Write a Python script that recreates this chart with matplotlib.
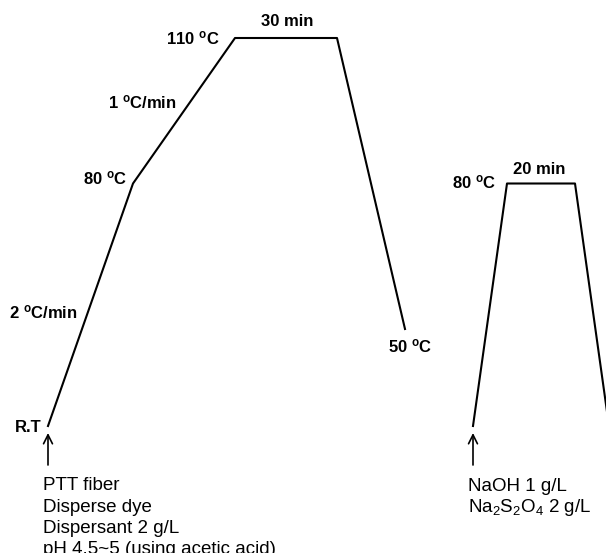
import matplotlib
matplotlib.use("Agg")
import matplotlib.pyplot as plt
import matplotlib.transforms as mtransforms

plt.rcParams["font.family"] = ["Liberation Sans", "DejaVu Sans"]
plt.rcParams["mathtext.fontset"] = "custom"
plt.rcParams["mathtext.rm"] = "Liberation Sans"
plt.rcParams["mathtext.it"] = "Liberation Sans:italic"
plt.rcParams["mathtext.bf"] = "Liberation Sans:bold"

# dyeing profile (time in min, temperature in deg C)
dye_time = [0, 25, 55, 85, 105]
dye_temp = [30, 80, 110, 110, 50]

# reduction clearing profile
rc_time = [125, 135, 155, 165]
rc_temp = [30, 80, 80, 30]

dye_recipe = ["PTT fiber", "Disperse dye", "Dispersant 2 g/L",
              "pH 4.5~5 (using acetic acid)"]
rc_recipe = ["NaOH 1 g/L", r"Na$_2$S$_2$O$_4$ 2 g/L"]

DEG = r"$^{\mathbf{o}}$"

# drawing scale of the schematic
PX_MIN = 3.4     # px per minute
PX_DEG = 4.85    # px per degree
X0, Y0 = 48, 426  # pixel position of (t=0, 30 C)
W, H = 606, 553

fig = plt.figure(figsize=(W / 100, H / 100), dpi=100, facecolor="white")
ax = fig.add_axes([0, 0, 1, 1])
ax.set_axis_off()
ax.set_xlim(-X0 / PX_MIN, (W - X0) / PX_MIN)
ax.set_ylim(30 - (H - Y0) / PX_DEG, 30 + Y0 / PX_DEG)

ax.plot(dye_time, dye_temp, "-", color="black", lw=1.5)
ax.plot(rc_time, rc_temp, "-", color="black", lw=1.5)


def label(txt, x, y, dx, dy, ha="right", bold=True, size=12):
    ax.annotate(txt, xy=(x, y), xytext=(dx, dy), textcoords="offset pixels",
                ha=ha, va="baseline", fontsize=size,
                fontweight="bold" if bold else "normal")


# dyeing labels
label("R.T", dye_time[0], dye_temp[0], -6, -6)
label("2 " + DEG + "C/min", (dye_time[0] + dye_time[1]) / 2,
      (dye_temp[0] + dye_temp[1]) / 2, -13, -14)
label(f"{dye_temp[1]} " + DEG + "C", dye_time[1], dye_temp[1], -6, -1)
label("1 " + DEG + "C/min", (dye_time[1] + dye_time[2]) / 2,
      (dye_temp[1] + dye_temp[2]) / 2, -7, 2)
label(f"{dye_temp[2]} " + DEG + "C", dye_time[2], dye_temp[2], -15, -6)
label(f"{dye_time[3] - dye_time[2]} min", (dye_time[2] + dye_time[3]) / 2,
      dye_temp[2], 1, 12, ha="center")
label(f"{dye_temp[4]} " + DEG + "C", dye_time[4], dye_temp[4], -17, -23,
      ha="left")

# clearing labels
label(f"{rc_temp[1]} " + DEG + "C", rc_time[1], rc_temp[1], -11, -5)
label(f"{rc_time[2] - rc_time[1]} min", (rc_time[1] + rc_time[2]) / 2,
      rc_temp[1], -2, 10, ha="center")

# arrows + recipes
for t0, T0, lines, first in [(dye_time[0], dye_temp[0], dye_recipe, -64),
                             (rc_time[0], rc_temp[0], rc_recipe, -65)]:
    tip = mtransforms.offset_copy(ax.transData, fig=fig, x=0, y=-7,
                                  units="dots")
    ax.annotate("", xy=(t0, T0), xycoords=tip, xytext=(0, -32),
                textcoords="offset pixels",
                arrowprops=dict(arrowstyle="->", color="black", lw=1.2,
                                shrinkA=0, shrinkB=0, mutation_scale=16))
    for i, line in enumerate(lines):
        label(line, t0, T0, -5, first - 21.5 * i, ha="left", bold=False,
              size=13.5)

fig.savefig("out.png", dpi=100, facecolor="white")
